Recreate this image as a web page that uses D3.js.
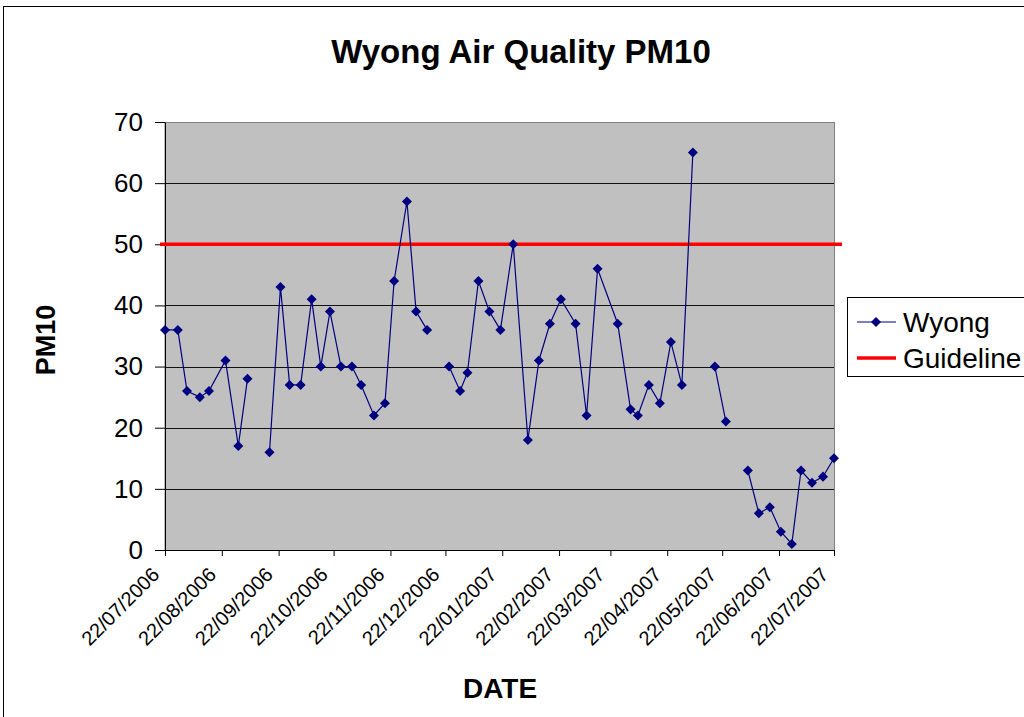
<!DOCTYPE html>
<html>
<head>
<meta charset="utf-8">
<script src="https://cdn.jsdelivr.net/npm/d3@7"></script>
<style>
  body { margin: 0; background: #fff; }
  svg text { font-family: "Liberation Sans", Arial, sans-serif; fill: #000; }
</style>
</head>
<body>
<svg id="chart" width="1024" height="717"></svg>
<script>
// sample dates (null value = missing sample, line breaks there)
var sampleDates = [
  "2006-07-22", "2006-07-29", "2006-08-03", "2006-08-10", "2006-08-15", "2006-08-24",
  "2006-08-31", "2006-09-05", "2006-09-11", "2006-09-17", "2006-09-23", "2006-09-28",
  "2006-10-04", "2006-10-10", "2006-10-15", "2006-10-20", "2006-10-26", "2006-11-01",
  "2006-11-06", "2006-11-13", "2006-11-19", "2006-11-24", "2006-12-01", "2006-12-06",
  "2006-12-12", "2006-12-18", "2006-12-24", "2006-12-30", "2007-01-03", "2007-01-09",
  "2007-01-15", "2007-01-21", "2007-01-28", "2007-02-05", "2007-02-11", "2007-02-17",
  "2007-02-23", "2007-03-03", "2007-03-09", "2007-03-15", "2007-03-26", "2007-04-02",
  "2007-04-06", "2007-04-12", "2007-04-18", "2007-04-24", "2007-04-30", "2007-05-06",
  "2007-05-12", "2007-05-18", "2007-05-24", "2007-05-30", "2007-06-05", "2007-06-11",
  "2007-06-17", "2007-06-23", "2007-06-29", "2007-07-04", "2007-07-10", "2007-07-16",
  "2007-07-22"
];
var wyongValues = [
  36, 36, 26, 25, 26, 31,
  17, 28, null, 16, 43, 27,
  27, 41, 30, 39, 30, 30,
  27, 22, 24, 44, 57, 39,
  36, null, 30, 26, 29, 44,
  39, 36, 50, 18, 31, 37,
  41, 37, 22, 46, 37, 23,
  22, 27, 24, 34, 27, 65,
  null, 30, 21, null, 13, 6,
  7, 3, 1, 13, 11, 12,
  15
];
var guidelineValue = 50;
var yTicks = [0, 10, 20, 30, 40, 50, 60, 70];
var xTickDates = [
  "2006-07-22", "2006-08-22", "2006-09-22", "2006-10-22", "2006-11-22", "2006-12-22",
  "2007-01-22", "2007-02-22", "2007-03-22", "2007-04-22", "2007-05-22", "2007-06-22",
  "2007-07-22"
];
var seriesNames = ["Wyong", "Guideline"];

var parse = d3.timeParse("%Y-%m-%d");
var fmt = d3.timeFormat("%d/%m/%Y");

var svg = d3.select("#chart");
var plotLeft = 165, plotRight = 834, plotTop = 122, plotBottom = 550;

// chart area border
svg.append("rect").attr("x", 3.5).attr("y", 6.5).attr("width", 1040).attr("height", 730)
    .attr("fill", "#fff").attr("stroke", "#000").attr("stroke-width", 1);

var x = d3.scaleTime()
    .domain([parse(xTickDates[0]), parse(xTickDates[xTickDates.length - 1])])
    .range([plotLeft, plotRight]);
var y = d3.scaleLinear().domain([0, 70]).range([plotBottom, plotTop]);

var data = sampleDates.map(function (d, i) {
    return { date: parse(d), value: wyongValues[i] };
});

// plot area
svg.append("rect").attr("x", plotLeft).attr("y", plotTop + 0.5)
    .attr("width", plotRight - plotLeft + 0.5).attr("height", plotBottom - plotTop)
    .attr("fill", "#c0c0c0").attr("stroke", "#808080").attr("stroke-width", 1);

// gridlines
svg.append("g").selectAll("line").data(yTicks.filter(function (t) { return t > 0 && t < 70; }))
    .enter().append("line")
    .attr("x1", plotLeft).attr("x2", plotRight)
    .attr("y1", function (d) { return Math.round(y(d)) + 0.5; })
    .attr("y2", function (d) { return Math.round(y(d)) + 0.5; })
    .attr("stroke", "#111").attr("stroke-width", 1);

// y axis
var yAxis = svg.append("g").attr("transform", "translate(" + plotLeft + ",0)")
    .call(d3.axisLeft(y).tickValues(yTicks).tickSize(10).tickPadding(12).tickSizeOuter(0));
yAxis.select(".domain").attr("stroke", "#000");
yAxis.selectAll("text").style("font-size", "26px").attr("fill", "#000");

// x axis
var xAxis = svg.append("g").attr("transform", "translate(0," + plotBottom + ")")
    .call(d3.axisBottom(x).tickValues(xTickDates.map(parse)).tickFormat(fmt).tickSize(6).tickSizeOuter(0));
xAxis.select(".domain").attr("stroke", "#000");
xAxis.selectAll("text")
    .style("font-size", "20px")
    .attr("text-anchor", "end")
    .attr("x", 0).attr("y", 0).attr("dy", 0)
    .attr("transform", "translate(-5,26) rotate(-45)");

// guideline
svg.append("line")
    .attr("x1", x.range()[0] - 5).attr("x2", x.range()[1] + 8)
    .attr("y1", y(guidelineValue)).attr("y2", y(guidelineValue))
    .attr("stroke", "#ff0000").attr("stroke-width", 3.5);

// series line
var line = d3.line()
    .defined(function (d) { return d.value !== null; })
    .x(function (d) { return x(d.date); })
    .y(function (d) { return y(d.value); });
svg.append("path").datum(data).attr("d", line)
    .attr("fill", "none").attr("stroke", "#000080").attr("stroke-width", 1.2);

var diamond = d3.symbol().type(d3.symbolDiamond2).size(64);
svg.append("g").selectAll("path").data(data.filter(function (d) { return d.value !== null; }))
    .enter().append("path")
    .attr("d", diamond)
    .attr("transform", function (d) { return "translate(" + x(d.date) + "," + y(d.value) + ")"; })
    .attr("fill", "#000080");

// titles
svg.append("text").attr("x", 521).attr("y", 63).attr("text-anchor", "middle")
    .style("font-size", "33px").style("font-weight", "bold").text("Wyong Air Quality PM10");
svg.append("text").attr("transform", "translate(55,340) rotate(-90)").attr("text-anchor", "middle")
    .style("font-size", "27px").style("font-weight", "bold").text("PM10");
svg.append("text").attr("x", 500).attr("y", 698).attr("text-anchor", "middle")
    .style("font-size", "28px").style("font-weight", "bold").text("DATE");

// legend
var lg = svg.append("g");
lg.append("rect").attr("x", 847.5).attr("y", 297.5).attr("width", 200).attr("height", 79)
    .attr("fill", "#fff").attr("stroke", "#000");
lg.append("line").attr("x1", 857).attr("x2", 896).attr("y1", 322).attr("y2", 322)
    .attr("stroke", "#000080").attr("stroke-width", 1.2);
lg.append("path").attr("d", diamond).attr("transform", "translate(876,322)").attr("fill", "#000080");
lg.append("line").attr("x1", 857).attr("x2", 896).attr("y1", 358).attr("y2", 358)
    .attr("stroke", "#ff0000").attr("stroke-width", 3.5);
lg.selectAll("text.lbl").data(seriesNames).enter().append("text").attr("class", "lbl")
    .attr("x", 903).attr("y", function (d, i) { return 332 + i * 36; })
    .style("font-size", "28px").text(function (d) { return d; });
</script>
</body>
</html>
